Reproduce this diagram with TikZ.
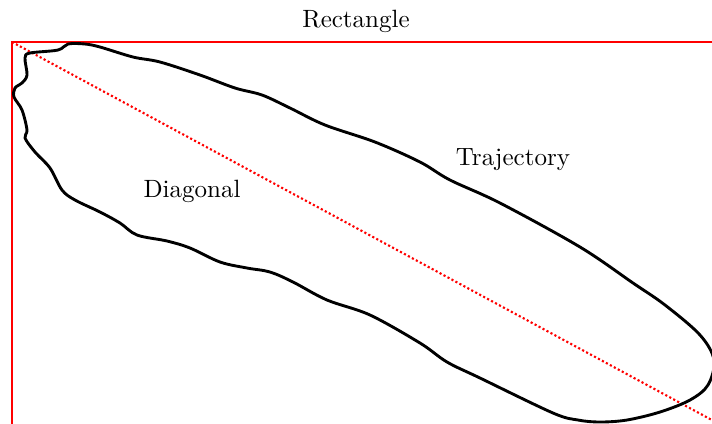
\documentclass[tikz,border=0pt]{standalone}
\begin{document}
\begin{tikzpicture}[x=0.4pt,y=-0.4pt,
  frame/.style={red, line width=0.8pt},
  diag/.style={red, line width=0.85pt, dash pattern=on 0.85pt off 0.95pt},
  traj/.style={black, line width=1.15pt, line join=round},
  lab/.style={inner sep=0pt, anchor=base}]
\useasboundingbox (0,0) rectangle (712,423);
\clip (0,0) rectangle (712,423);
\coordinate (tl) at (12,42);
\coordinate (br) at (760,446);
\draw[frame] (tl) rectangle (br);
\draw[diag] (tl) -- (br);
\draw[traj] plot[smooth cycle, tension=0.55] coordinates {
 (68,44) (85,44) (100,47) (133,57) (160,62) (200,75) (235,88) (262,95)
 (290,108) (325,125) (375,142) (420,162) (450,180) (500,203) (580,247)
 (633,283) (665,305) (700,335) (714,360) (708,385) (690,400) (660,412)
 (627,420) (600,422) (578,420) (553,413) (480,378) (447,362) (420,343)
 (370,315) (327,300) (293,282) (270,272) (247,268) (220,262) (190,248)
 (167,241) (137,235) (120,223) (100,212) (75,200) (62,190) (50,168)
 (35,152) (25,138) (27,130) (22,110) (14,97) (15,88) (22,83) (27,75)
 (25,58) (30,53) (58,50)};
\node[lab] (rectlabel) at (356,27) {Rectangle};
\node[lab] (trajlabel) at (513,165) {Trajectory};
\node[lab] (diaglabel) at (192,197) {Diagonal};
\end{tikzpicture}
\end{document}
